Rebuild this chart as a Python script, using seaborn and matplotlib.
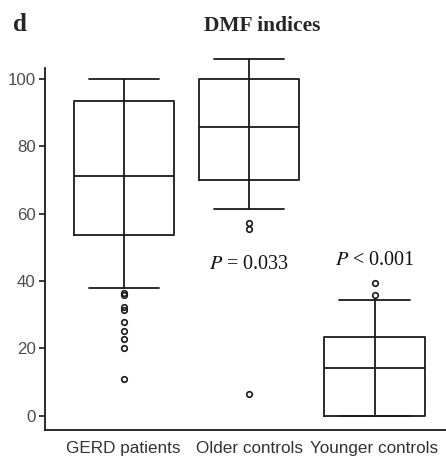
import matplotlib
matplotlib.use("Agg")
import matplotlib.pyplot as plt
import seaborn as sns

# ---- data ----
groups = ["GERD patients", "Older controls", "Younger controls"]
whisker_high = [100.0, 106.0, 34.3]
q3 = [93.5, 100.0, 23.4]
median = [71.3, 85.6, 14.0]
q1 = [53.6, 69.9, 0.0]
whisker_low = [37.8, 61.3, 0.0]
outliers_gerd = [36.5, 35.9, 32.3, 31.5, 27.7, 25.1, 22.8, 20.2, 10.8]
outliers_older = [57.1, 55.4, 6.4]
outliers_younger = [39.3, 35.8]
yticks = [0, 20, 40, 60, 80, 100]
p_labels = [r"$P$ = 0.033", r"$P$ < 0.001"]
p_groups = [1, 2]
p_heights = [43.4, 44.7]

sns.set_style("ticks")
plt.rcParams["font.family"] = ["Liberation Sans", "DejaVu Sans"]
plt.rcParams["mathtext.fontset"] = "stix"

fig = plt.figure(figsize=(4.46, 4.59), dpi=100)
ax = fig.add_axes([0.102, 0.0632, 0.898, 0.8124])

fliers = [outliers_gerd, outliers_older, outliers_younger]
stats = []
for i, g in enumerate(groups):
    stats.append(dict(label=g, whishi=whisker_high[i], q3=q3[i], med=median[i],
                      q1=q1[i], whislo=whisker_low[i], fliers=fliers[i]))

lc = "#1a1a1a"
lw = 1.3
ax.bxp(stats, positions=range(len(groups)), widths=0.8, showfliers=True,
       boxprops=dict(color=lc, linewidth=lw),
       medianprops=dict(color=lc, linewidth=lw),
       whiskerprops=dict(color=lc, linewidth=lw),
       capprops=dict(color=lc, linewidth=lw),
       capwidths=0.56,
       flierprops=dict(marker="o", markersize=4.0, markerfacecolor="none",
                       markeredgecolor=lc, markeredgewidth=1.2))

# whiskers drawn through the box as in the reference
for i in range(len(groups)):
    ax.plot([i, i], [q1[i], q3[i]], color=lc, lw=lw, zorder=1)

ax.set_xlim(-0.624, 2.570)
ax.set_ylim(-4.3, 106.5)
ax.set_yticks(yticks)
ax.set_xticks(range(len(groups)))
ax.set_xticklabels(groups)
sns.despine(ax=ax)
ax.spines["left"].set_bounds(-4.3, 103.3)
for s in ["left", "bottom"]:
    ax.spines[s].set_linewidth(1.3)
    ax.spines[s].set_color("#1a1a1a")
ax.tick_params(axis="y", length=4, width=1.2, color="#1a1a1a", pad=3,
               labelsize=12.2, labelcolor="#4d4d4d")
ax.tick_params(axis="x", length=0, pad=8, labelsize=12.3, labelcolor="#333333")

for lab, gx, h in zip(p_labels, p_groups, p_heights):
    ax.text(gx, h, lab, ha="center", va="baseline", fontsize=14.5, color="#111111",
            family=["Liberation Serif", "DejaVu Serif"])

fig.text(0.5868, 0.9331, "DMF indices", ha="center", va="baseline",
         family=["Liberation Serif", "DejaVu Serif"], fontweight="bold", fontsize=15.5)
fig.text(0.030, 0.9314, "d", ha="left", va="baseline",
         family=["Liberation Serif", "DejaVu Serif"], fontweight="bold", fontsize=18)

fig.savefig("out.png", dpi=100)
